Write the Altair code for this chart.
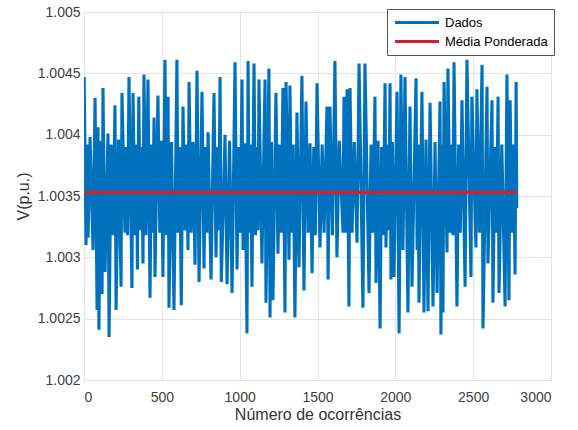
import altair as alt
import pandas as pd

# Sample index (Número de ocorrências) and voltage (p.u.)
sample_idx = [
    1, 13, 19, 26, 39, 58, 71, 84, 90, 96, 106, 116, 122, 135, 154, 161, 174, 186, 199, 206,
    222, 238, 244, 263, 270, 280, 289, 308, 315, 328, 337, 343, 352, 362, 370, 379, 385, 398, 411, 424,
    433, 441, 450, 456, 475, 487, 497, 507, 520, 530, 540, 546, 562, 578, 597, 604, 614, 625, 636, 648,
    658, 668, 675, 688, 700, 713, 726, 739, 758, 771, 780, 789, 797, 816, 835, 848, 857, 866, 874, 882,
    906, 919, 935, 951, 970, 983, 994, 1004, 1015, 1022, 1034, 1047, 1054, 1062, 1070, 1079, 1092, 1102, 1110, 1118,
    1124, 1143, 1163, 1169, 1188, 1195, 1204, 1214, 1233, 1246, 1257, 1267, 1278, 1291, 1298, 1317, 1323, 1334, 1344, 1355,
    1368, 1381, 1400, 1413, 1426, 1440, 1452, 1465, 1476, 1486, 1497, 1516, 1530, 1542, 1561, 1568, 1580, 1596, 1612, 1625,
    1640, 1664, 1670, 1680, 1690, 1702, 1709, 1722, 1736, 1754, 1767, 1792, 1805, 1831, 1844, 1856, 1869, 1876, 1889, 1902,
    1912, 1922, 1934, 1940, 1950, 1958, 1966, 1972, 1981, 1991, 2011, 2024, 2036, 2049, 2062, 2081, 2094, 2107, 2133, 2140,
    2146, 2152, 2171, 2184, 2197, 2210, 2223, 2242, 2255, 2268, 2287, 2293, 2300, 2306, 2313, 2332, 2338, 2352, 2362, 2370,
    2377, 2396, 2407, 2417, 2428, 2448, 2460, 2486, 2492, 2518, 2524, 2540, 2557, 2563, 2589, 2595, 2621, 2627, 2640, 2650,
    2660, 2666, 2684, 2705, 2717, 2730, 2737, 2750, 2760, 2769, 2776, 2780,
]
voltage = [
    1.00447, 1.00310, 1.00392, 1.00316, 1.00398, 1.00306, 1.00430, 1.00257, 1.00406, 1.00241,
    1.00395, 1.00270, 1.00438, 1.00288, 1.00401, 1.00235, 1.00392, 1.00318, 1.00424, 1.00257,
    1.00396, 1.00276, 1.00434, 1.00320, 1.00390, 1.00318, 1.00447, 1.00275, 1.00434, 1.00318,
    1.00392, 1.00290, 1.00431, 1.00322, 1.00390, 1.00295, 1.00449, 1.00318, 1.00445, 1.00267,
    1.00392, 1.00320, 1.00414, 1.00284, 1.00432, 1.00320, 1.00395, 1.00284, 1.00461, 1.00318,
    1.00431, 1.00259, 1.00394, 1.00257, 1.00461, 1.00320, 1.00390, 1.00261, 1.00423, 1.00322,
    1.00392, 1.00306, 1.00443, 1.00320, 1.00394, 1.00294, 1.00452, 1.00280, 1.00435, 1.00291,
    1.00390, 1.00320, 1.00402, 1.00282, 1.00434, 1.00300, 1.00390, 1.00322, 1.00447, 1.00280,
    1.00400, 1.00278, 1.00395, 1.00271, 1.00459, 1.00290, 1.00390, 1.00320, 1.00445, 1.00306,
    1.00393, 1.00238, 1.00460, 1.00320, 1.00392, 1.00276, 1.00458, 1.00318, 1.00390, 1.00322,
    1.00445, 1.00295, 1.00445, 1.00263, 1.00454, 1.00251, 1.00394, 1.00265, 1.00434, 1.00303,
    1.00392, 1.00320, 1.00438, 1.00255, 1.00443, 1.00298, 1.00440, 1.00320, 1.00392, 1.00251,
    1.00418, 1.00292, 1.00448, 1.00273, 1.00427, 1.00320, 1.00393, 1.00287, 1.00390, 1.00318,
    1.00442, 1.00308, 1.00392, 1.00320, 1.00423, 1.00282, 1.00423, 1.00318, 1.00460, 1.00300,
    1.00395, 1.00320, 1.00431, 1.00320, 1.00437, 1.00260, 1.00438, 1.00320, 1.00394, 1.00312,
    1.00458, 1.00259, 1.00458, 1.00271, 1.00392, 1.00320, 1.00431, 1.00279, 1.00395, 1.00242,
    1.00390, 1.00318, 1.00442, 1.00308, 1.00392, 1.00322, 1.00442, 1.00282, 1.00394, 1.00284,
    1.00435, 1.00238, 1.00449, 1.00306, 1.00447, 1.00255, 1.00423, 1.00276, 1.00446, 1.00306,
    1.00392, 1.00263, 1.00435, 1.00255, 1.00396, 1.00256, 1.00426, 1.00260, 1.00394, 1.00271,
    1.00427, 1.00237, 1.00392, 1.00255, 1.00443, 1.00304, 1.00454, 1.00320, 1.00392, 1.00318,
    1.00459, 1.00260, 1.00392, 1.00320, 1.00428, 1.00276, 1.00461, 1.00284, 1.00431, 1.00308,
    1.00437, 1.00320, 1.00457, 1.00242, 1.00439, 1.00295, 1.00428, 1.00263, 1.00390, 1.00320,
    1.00431, 1.00271, 1.00392, 1.00260, 1.00449, 1.00265, 1.00428, 1.00320, 1.00392, 1.00286,
    1.00443, 1.00340,
]

mean_x = [1, 2780]
mean_v = [1.00353, 1.00353]

series_names = ["Dados", "Média Ponderada"]
series_colors = ["#0072BD", "#D41E35"]
x_ticks = [0, 500, 1000, 1500, 2000, 2500, 3000]
y_ticks = [1.002, 1.0025, 1.003, 1.0035, 1.004, 1.0045, 1.005]

df = pd.concat([
    pd.DataFrame({"x": sample_idx, "v": voltage, "serie": series_names[0]}),
    pd.DataFrame({"x": mean_x, "v": mean_v, "serie": series_names[1]}),
], ignore_index=True)

font = "Liberation Sans"

chart = alt.Chart(df).mark_line(clip=True).encode(
    x=alt.X("x:Q",
            scale=alt.Scale(domain=[0, 3000], nice=False),
            axis=alt.Axis(values=x_ticks, format="d", title="Número de ocorrências",
                          labelPadding=10, titlePadding=2)),
    y=alt.Y("v:Q",
            scale=alt.Scale(domain=[1.002, 1.005], nice=False, zero=False),
            axis=alt.Axis(values=y_ticks, format=".5~g", title="V(p.u.)",
                          labelPadding=4, titlePadding=6)),
    color=alt.Color("serie:N",
                    scale=alt.Scale(domain=series_names, range=series_colors),
                    legend=alt.Legend(title=None, orient="none", legendX=303, legendY=-3,
                                      symbolType="M-1,0L7,0", symbolSize=121, symbolStrokeWidth=3,
                                      labelFontSize=13, labelFont=font, labelColor="#000000",
                                      labelOffset=37, strokeColor="#555555", fillColor="white",
                                      padding=6, rowPadding=4, cornerRadius=0)),
    strokeWidth=alt.StrokeWidth("serie:N",
                                scale=alt.Scale(domain=series_names, range=[3.1, 3.2]),
                                legend=None),
).properties(
    width=467,
    height=368,
    autosize=alt.AutoSizeParams(type="none"),
    padding={"left": 84, "top": 12, "right": 27, "bottom": 50},
    background="white",
).configure_view(
    stroke="#707070", strokeWidth=1
).configure_axis(
    domain=False,
    grid=True,
    gridColor="#e3e3e3",
    gridWidth=1,
    ticks=False,
    labelFont=font,
    labelFontSize=14,
    labelColor="#404040",
    titleFont=font,
    titleFontSize=16,
    titleFontWeight="normal",
    titleColor="#333333",
)

chart.save("out.html", embed_options={"renderer": "svg", "actions": False})
